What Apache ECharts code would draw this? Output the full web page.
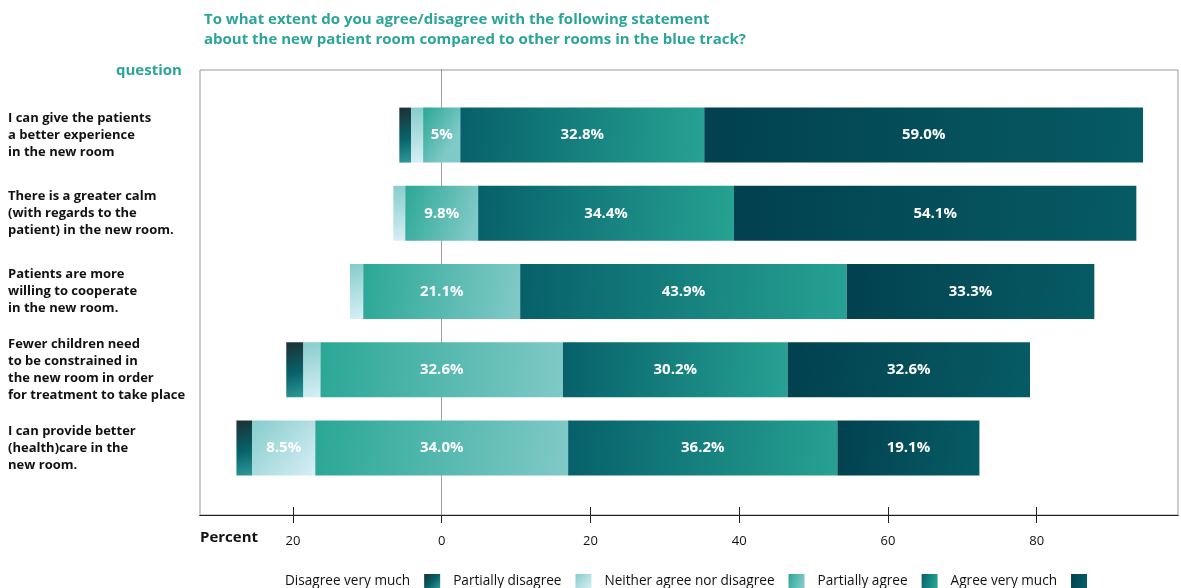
<!DOCTYPE html>
<html>
<head>
<meta charset="utf-8">
<script src="https://cdn.jsdelivr.net/npm/echarts@6/dist/echarts.min.js"></script>
<style>
html,body{margin:0;padding:0;background:#fff;}
#chart{width:1181px;height:588px;}
</style>
</head>
<body>
<div id="chart"></div>
<script>
var questions = [
  "I can give the patients\na better experience\nin the new room",
  "There is a greater calm\n(with regards to the\npatient) in the new room.",
  "Patients are more\nwilling to cooperate\nin the new room.",
  "Fewer children need\nto be constrained in\nthe new room in order\nfor treatment to take place",
  "I can provide better\n(health)care in the\nnew room."
];
var disagreeVeryMuch = [1.6, 0, 0, 2.3, 2.1];
var partiallyDisagree = [1.6, 1.6, 1.8, 2.3, 8.5];
var neither = [5, 9.8, 21.1, 32.6, 34.0];
var partiallyAgree = [32.8, 34.4, 43.9, 30.2, 36.2];
var agreeVeryMuch = [59.0, 54.1, 33.3, 32.6, 19.1];
var tickValues = [-20, 0, 20, 40, 60, 80];
var legendNames = ["Disagree very much", "Partially disagree", "Neither agree nor disagree", "Partially agree", "Agree very much"];

var XMIN = -32.5, XMAX = 99;
var FONT = "'Open Sans', 'Noto Sans', sans-serif";
var TEAL = "#2ba597";

// offset so that the neutral category is centred on zero
var offset = questions.map(function (q, i) {
  return -(neither[i] / 2 + partiallyDisagree[i] + disagreeVeryMuch[i]);
});

function grad(x2, y2, stops) {
  return { type: 'linear', x: 0, y: 0, x2: x2, y2: y2,
    colorStops: stops.map(function (s) { return { offset: s[0], color: s[1] }; }) };
}
var colors = [
  grad(1, 1, [[0, '#1d2f35'], [0.55, '#07626a'], [1, '#2e9a97']]),
  grad(1, 1, [[0, '#86cccb'], [1, '#d7eff6']]),
  grad(1, 0.4, [[0, '#2aa796'], [1, '#7fc9c6']]),
  grad(1, 0.3, [[0, '#06606a'], [1, '#26a192']]),
  grad(1, 0.3, [[0, '#02414f'], [1, '#065b64']])
];

function fmt(v) {
  return (Number.isInteger(v) && v < 10 ? String(v) : v.toFixed(1)) + '%';
}

var seriesData = [disagreeVeryMuch, partiallyDisagree, neither, partiallyAgree, agreeVeryMuch];

var series = [{
  name: 'offset', type: 'bar', stack: 'total', stackStrategy: 'all',
  xAxisIndex: 0, yAxisIndex: 0, barWidth: 55, silent: true,
  itemStyle: { color: 'rgba(0,0,0,0)' }, data: offset, z: 10
}];
seriesData.forEach(function (arr, k) {
  series.push({
    name: legendNames[k], type: 'bar', stack: 'total', stackStrategy: 'all',
    xAxisIndex: 0, yAxisIndex: 0, barWidth: 55, z: 10,
    itemStyle: { color: colors[k] },
    label: {
      show: true, position: 'inside', color: '#fff',
      fontFamily: FONT, fontWeight: 'bold', fontSize: 15,
      formatter: function (p) { return p.value >= 4 ? fmt(p.value) : ''; }
    },
    data: arr
  });
});
// zero reference line across the framed plot
series.push({
  name: 'zero', type: 'scatter', xAxisIndex: 1, yAxisIndex: 1, data: [], silent: true,
  markLine: { silent: true, symbol: 'none', z: 1, label: { show: false },
    lineStyle: { color: '#a0a0a0', width: 1, type: 'solid' },
    data: [{ xAxis: 0 }] },
  z: 1
});

var option = {
  animation: false,
  backgroundColor: '#fff',
  title: {
    text: 'To what extent do you agree/disagree with the following statement\nabout the new patient room compared to other rooms in the blue track?',
    left: 199, top: 5,
    textStyle: { color: TEAL, fontFamily: FONT, fontWeight: 'bold', fontSize: 15, lineHeight: 20 }
  },
  graphic: [
    { type: 'text', left: 116, top: 63, style: { text: 'question', fill: TEAL, font: "bold 15px " + FONT } },
    { type: 'text', left: 200, top: 530, style: { text: 'Percent', fill: '#111', font: "bold 15px " + FONT } }
  ],
  legend: {
    data: legendNames, left: 280, top: 569, align: 'right',
    icon: 'rect', itemWidth: 16, itemHeight: 14, itemGap: 13,
    textStyle: { color: '#111', fontFamily: FONT, fontSize: 13.6, padding: [0, 9, 0, 0] }
  },
  grid: [
    { left: 200, right: 3, top: 96, height: 391 },
    { left: 200, right: 3, top: 70, height: 445, show: true, borderColor: '#999', borderWidth: 1 }
  ],
  xAxis: [
    { gridIndex: 0, type: 'value', min: XMIN, max: XMAX, show: false },
    { gridIndex: 1, type: 'value', min: XMIN, max: XMAX, position: 'top',
      axisLine: { show: true, lineStyle: { color: '#222', width: 1 } },
      axisTick: { show: true, length: 8, customValues: tickValues, lineStyle: { color: '#222' } },
      axisLabel: { show: false }, splitLine: { show: false } },
    { gridIndex: 1, type: 'value', min: XMIN, max: XMAX, position: 'bottom',
      axisLine: { show: true, lineStyle: { color: '#222', width: 1 } },
      axisTick: { show: true, length: 8, customValues: tickValues, lineStyle: { color: '#222' } },
      axisLabel: { show: true, customValues: tickValues, margin: 20, color: '#111',
        fontFamily: FONT, fontSize: 13, formatter: function (v) { return String(Math.abs(v)); } },
      splitLine: { show: false } }
  ],
  yAxis: [
    { gridIndex: 0, type: 'category', inverse: true, data: questions,
      axisLine: { show: false }, axisTick: { show: false },
      axisLabel: { align: 'left', margin: 192, color: '#111', fontFamily: FONT,
        fontWeight: 'bold', fontSize: 13, lineHeight: 17 } },
    { gridIndex: 1, type: 'value', min: 0, max: 1,
      axisLine: { show: true, lineStyle: { color: '#222', width: 1 } },
      axisTick: { show: false }, axisLabel: { show: false }, splitLine: { show: false } }
  ],
  series: series
};

var chart = echarts.init(document.getElementById('chart'), null, { renderer: 'canvas' });
chart.setOption(option);
</script>
</body>
</html>
